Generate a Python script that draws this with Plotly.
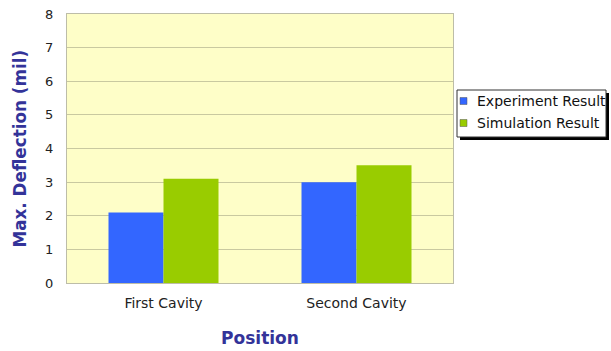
import plotly.graph_objects as go

categories = ["First Cavity", "Second Cavity"]
series_names = ["Experiment Result", "Simulation Result"]
experiment = [2.1, 3.0]
simulation = [3.1, 3.5]
series_colors = ["#3366FF", "#99CC00"]
y_ticks = [0, 1, 2, 3, 4, 5, 6, 7, 8]

W, H = 611, 351
ML, MR, MT, MB = 67, 158, 14, 68
PW, PH = W - ML - MR, H - MT - MB

def px_x(px):
    return (px - ML) / PW

def px_y(py):
    return (H - MB - py) / PH

font_fam = "DejaVu Sans, Verdana, sans-serif"
title_color = "#333399"

fig = go.Figure()
for name, vals, col in zip(series_names, [experiment, simulation], series_colors):
    fig.add_trace(go.Bar(x=categories, y=vals, name=name, showlegend=False,
                         marker=dict(color=col, line=dict(width=0))))

# manual legend (box with drop shadow, square swatches, labels)
lx0, lx1, ly0, ly1 = 457, 606, 90, 137
fig.add_shape(type="rect", xref="paper", yref="paper",
              x0=px_x(lx0 + 3), x1=px_x(lx1 + 3), y0=px_y(ly1 + 3), y1=px_y(ly0 + 3),
              fillcolor="black", line=dict(width=0), layer="above")
fig.add_shape(type="rect", xref="paper", yref="paper",
              x0=px_x(lx0), x1=px_x(lx1), y0=px_y(ly1), y1=px_y(ly0),
              fillcolor="white", line=dict(color="#333333", width=1), layer="above")
row_y = [101, 123]
for name, col, ry in zip(series_names, series_colors, row_y):
    fig.add_shape(type="rect", xref="paper", yref="paper",
                  x0=px_x(460), x1=px_x(467), y0=px_y(ry + 3.5), y1=px_y(ry - 3.5),
                  fillcolor=col, line=dict(color="#555555", width=0.5), layer="above")
    fig.add_annotation(xref="paper", yref="paper", x=px_x(475), y=px_y(ry),
                       xanchor="left", yanchor="middle", text=name, showarrow=False,
                       font=dict(size=14, color="#111111", family=font_fam))

# y-axis title
fig.add_annotation(xref="paper", yref="paper", x=px_x(19), y=0.5,
                   xanchor="center", yanchor="middle", textangle=-90, showarrow=False,
                   text="<b>Max. Deflection (mil)</b>",
                   font=dict(size=16.8, color=title_color, family=font_fam))

fig.update_layout(
    width=W, height=H,
    margin=dict(l=ML, r=MR, t=MT, b=MB),
    paper_bgcolor="white",
    plot_bgcolor="#FEFEC8",
    barmode="group", bargap=0.43, bargroupgap=0,
    font=dict(family=font_fam, size=12, color="#222222"),
    showlegend=False,
    xaxis=dict(
        title=dict(text="<b>Position</b>", font=dict(size=17, color=title_color), standoff=22),
        showline=True, linecolor="#BDBDA8", linewidth=1, mirror=True, automargin=False,
        ticks="outside", ticklen=7, tickcolor="rgba(0,0,0,0)", showgrid=False,
        tickfont=dict(size=14),
    ),
    yaxis=dict(
        range=[0, 8], tickvals=y_ticks, showline=True, linecolor="#BDBDA8", linewidth=1, mirror=True,
        gridcolor="#C9C9A0", gridwidth=1, zeroline=False, automargin=False,
        ticks="outside", ticklen=10, tickcolor="rgba(0,0,0,0)",
        tickfont=dict(size=13),
    ),
)

fig.write_html("out.html")
